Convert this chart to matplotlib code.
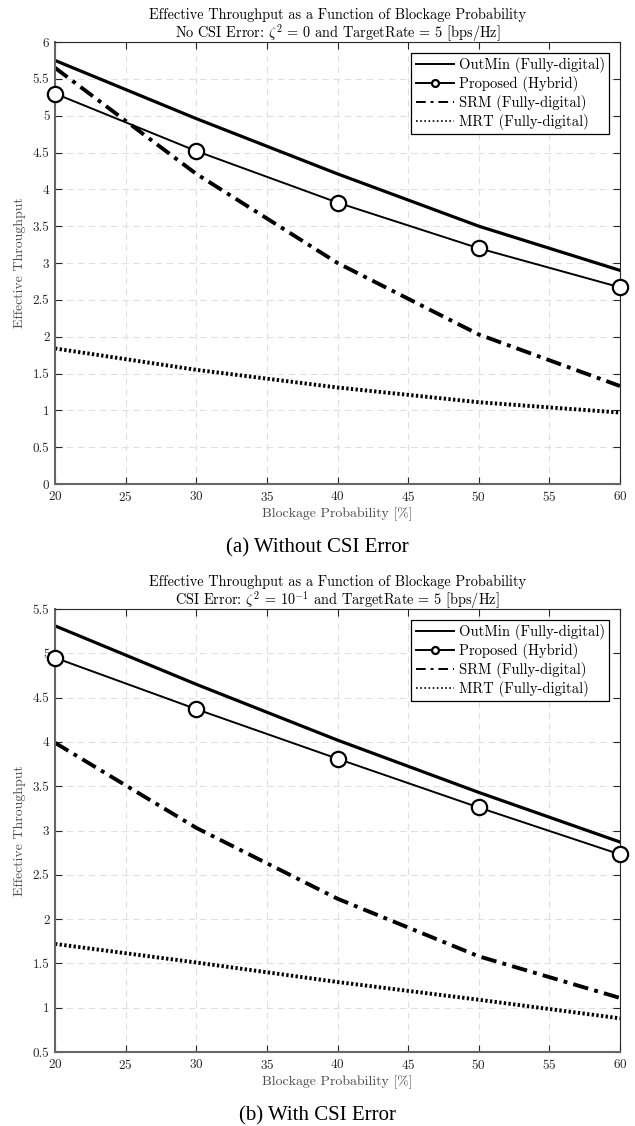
import numpy as np
import matplotlib
matplotlib.use("Agg")
import matplotlib.pyplot as plt

plt.rcParams["font.family"] = "serif"
plt.rcParams["font.serif"] = ["cmr10"]
plt.rcParams["mathtext.fontset"] = "cm"
plt.rcParams["axes.formatter.use_mathtext"] = True

blockage = [20, 30, 40, 50, 60]

# (a) no CSI error
outmin_a = [5.75, 4.96, 4.21, 3.50, 2.90]
proposed_a = [5.30, 4.52, 3.82, 3.20, 2.67]
srm_a = [5.65, 4.21, 3.00, 2.03, 1.33]
mrt_a = [1.84, 1.55, 1.31, 1.11, 0.97]

# (b) CSI error zeta^2 = 1e-1
outmin_b = [5.31, 4.65, 4.02, 3.43, 2.87]
proposed_b = [4.95, 4.37, 3.81, 3.26, 2.73]
srm_b = [3.99, 3.03, 2.23, 1.58, 1.11]
mrt_b = [1.72, 1.51, 1.29, 1.09, 0.88]

labels = ["OutMin (Fully-digital)", "Proposed (Hybrid)",
          "SRM (Fully-digital)", "MRT (Fully-digital)"]
titles = [
    "Effective Throughput as a Function of Blockage Probability\n"
    r"No CSI Error: $\zeta^2$ = 0 and TargetRate = 5 [bps/Hz]",
    "Effective Throughput as a Function of Blockage Probability\n"
    r"CSI Error: $\zeta^2$ = $10^{-1}$ and TargetRate = 5 [bps/Hz]",
]
captions = ["(a) Without CSI Error", "(b) With CSI Error"]
ylims = [(0, 6), (0.5, 5.5)]

W, H = 635, 1126
fig = plt.figure(figsize=(W / 100, H / 100), dpi=100)
boxes = [(55, 42, 620, 484), (55, 609, 620, 1052)]
data = [(outmin_a, proposed_a, srm_a, mrt_a), (outmin_b, proposed_b, srm_b, mrt_b)]
cap_y = [548, 1116]

for k in range(2):
    x0, y0, x1, y1 = boxes[k]
    ax = fig.add_axes([x0 / W, 1 - y1 / H, (x1 - x0) / W, (y1 - y0) / H])
    om, pr, sr, mr = data[k]
    ax.plot(blockage, om, color="k", lw=2.3, label=labels[0])
    ax.plot(blockage, pr, color="k", lw=1.4, marker="o", ms=11, mfc="white",
            mec="k", mew=1.6, label=labels[1], clip_on=False, zorder=4)
    ax.plot(blockage, sr, color="k", lw=2.8, ls=(0, (4, 1.6, 1, 1.6)), label=labels[2])
    ax.plot(blockage, mr, color="k", lw=2.8, ls=(0, (0.6, 0.6)), label=labels[3])

    ax.set_xlim(20, 60)
    ax.set_ylim(*ylims[k])
    yt = np.arange(ylims[k][0], ylims[k][1] + 0.01, 0.5)
    ax.set_xticks(np.arange(20, 61, 5))
    ax.set_yticks(yt)
    ax.set_yticklabels([f"{v:g}" for v in yt])
    ax.grid(True, ls=(0, (6, 4)), color="0.88", lw=0.8)
    ax.tick_params(direction="in", top=True, right=True, labelsize=9.5,
                   length=5, width=0.8, colors="0.15", pad=4)
    for s in ["left", "bottom"]:
        ax.spines[s].set_color("0.4")
        ax.spines[s].set_linewidth(1.5)
    for s in ["top", "right"]:
        ax.spines[s].set_color("0.15")
        ax.spines[s].set_linewidth(0.8)
    ax.set_xlabel("Blockage Probability [%]", fontsize=10, color="0.3", labelpad=3)
    ax.set_ylabel("Effective Throughput", fontsize=10, color="0.3", labelpad=5)
    ax.set_title(titles[k], fontsize=10.3, linespacing=1.05, pad=3)

    leg = ax.legend(loc="upper right", fontsize=10.5, frameon=True, fancybox=False,
                    edgecolor="k", framealpha=1, handlelength=2.6, borderpad=0.3,
                    labelspacing=0.2, handletextpad=0.35, borderaxespad=0.75)
    leg.get_frame().set_linewidth(0.9)
    # thinner handle lines in the key, like the original figure legend
    for h, lw in zip(leg.legend_handles, [1.4, 1.4, 1.4, 1.2]):
        h.set_markersize(5)
        h.set_linewidth(lw)
    leg.legend_handles[2].set_linestyle((0, (5, 2.5, 1.5, 2.5)))
    leg.legend_handles[3].set_linestyle((0, (1, 1.5)))

    fig.text(0.5, 1 - cap_y[k] / H, captions[k], ha="center", va="center",
             fontsize=15, family="Liberation Serif")

fig.savefig("out.png", dpi=100)
